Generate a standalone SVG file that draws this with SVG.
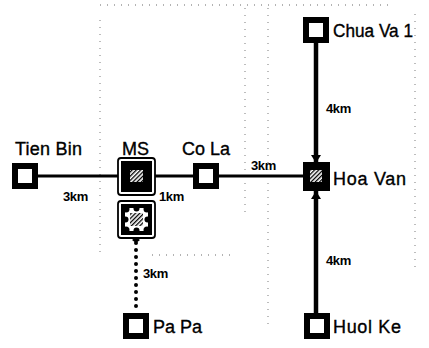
<svg xmlns="http://www.w3.org/2000/svg" width="429" height="348" viewBox="0 0 429 348">
  <style>
    .lbl { font-family: "Liberation Sans", Arial, sans-serif; font-size: 18px; fill: #000; stroke: #000; stroke-width: 0.35; }
    .km { font-family: "Liberation Sans", Arial, sans-serif; font-size: 13px; font-weight: bold; fill: #000; letter-spacing: -0.4px; }
    .box { fill: #fff; stroke: #000; stroke-width: 6; }
    .frame { fill: #fff; stroke: #000; stroke-width: 1.8; }
    .grid { fill: none; stroke: #9a9a9a; stroke-width: 1.3; stroke-dasharray: 1 6; }
    .hline { fill: none; stroke: #000; stroke-width: 3.2; }
    .vline { fill: none; stroke: #000; stroke-width: 4.5; }
    .dot { fill: none; stroke: #000; stroke-width: 4; stroke-linecap: round; stroke-dasharray: 0 7; }
  </style>
  <defs>
    <pattern id="hatch" width="3" height="3" patternUnits="userSpaceOnUse" patternTransform="rotate(45)">
      <rect width="3" height="3" fill="#fff"/>
      <rect width="1.3" height="3" fill="#000"/>
    </pattern>
    <marker id="arr" viewBox="0 0 8 10" refX="8" refY="5" markerWidth="8" markerHeight="10" markerUnits="userSpaceOnUse" orient="auto">
      <path d="M0,0 L8,5 L0,10 z" fill="#000"/>
    </marker>
  </defs>
  <rect width="429" height="348" fill="#fff"/>

  <g id="background-grid">
    <path class="grid" d="M100,5 H392"/>
    <path class="grid" d="M100,20 V258"/>
    <path class="grid" d="M245,8 V212"/>
    <path class="grid" d="M268,8 V330"/>
    <path class="grid" d="M415,14 V270"/>
    <path class="grid" d="M152,255 H236"/>
  </g>

  <g id="connectors">
    <path class="hline" d="M38,176 H303"/>
    <path class="vline" d="M316,43 V163" marker-end="url(#arr)"/>
    <path class="vline" d="M316,314 V191" marker-end="url(#arr)"/>
    <path class="dot" d="M136,243 V312"/>
    <path d="M132,240 L136,237 L140,240 L136,243 z" fill="#000"/>
    <text class="km" x="63" y="201">3km</text>
    <text class="km" x="159" y="201">1km</text>
    <text class="km" x="251" y="170">3km</text>
    <text class="km" x="326" y="113">4km</text>
    <text class="km" x="326" y="265">4km</text>
    <text class="km" x="143" y="278">3km</text>
  </g>

  <g id="tien-bin">
    <rect class="box" x="15" y="166" width="20" height="20"/>
    <text class="lbl" x="15" y="155" textLength="67" lengthAdjust="spacing">Tien Bin</text>
  </g>

  <g id="ms">
    <rect class="frame" x="118" y="158" width="37" height="37" rx="3"/>
    <rect x="121" y="161" width="31" height="31" fill="#000"/>
    <rect x="130" y="170" width="13" height="12" fill="url(#hatch)"/>
    <text class="lbl" x="122" y="155">MS</text>
  </g>

  <g id="ms-2">
    <rect class="frame" x="118" y="201" width="37" height="37" rx="3"/>
    <rect x="121" y="204" width="31" height="31" fill="#000"/>
    <rect x="125" y="208" width="23" height="23" fill="#fff"/>
    <g fill="#000">
      <circle cx="136.5" cy="208.5" r="3"/>
      <circle cx="136.5" cy="230.5" r="3"/>
      <circle cx="125.5" cy="219.5" r="3"/>
      <circle cx="147.5" cy="219.5" r="3"/>
      <circle cx="126" cy="209" r="3.5"/>
      <circle cx="147" cy="209" r="3.5"/>
      <circle cx="126" cy="230" r="3.5"/>
      <circle cx="147" cy="230" r="3.5"/>
    </g>
    <rect x="130" y="213" width="13" height="13" fill="url(#hatch)"/>
  </g>

  <g id="co-la">
    <rect class="box" x="196" y="166" width="20" height="20"/>
    <text class="lbl" x="182" y="155">Co La</text>
  </g>

  <g id="hoa-van">
    <rect x="303" y="162" width="27" height="29" fill="#000"/>
    <rect x="310" y="170" width="12" height="12" fill="url(#hatch)"/>
    <text class="lbl" x="333" y="185" textLength="73" lengthAdjust="spacing">Hoa Van</text>
  </g>

  <g id="chua-va-1">
    <rect class="box" x="306" y="20" width="20" height="20"/>
    <text class="lbl" x="333" y="37" textLength="80" lengthAdjust="spacingAndGlyphs">Chua Va 1</text>
  </g>

  <g id="huol-ke">
    <rect class="box" x="307" y="316" width="20" height="20"/>
    <text class="lbl" x="333" y="333" textLength="68" lengthAdjust="spacing">Huol Ke</text>
  </g>

  <g id="pa-pa">
    <rect class="box" x="126" y="316" width="20" height="20"/>
    <text class="lbl" x="153" y="333">Pa Pa</text>
  </g>
</svg>
